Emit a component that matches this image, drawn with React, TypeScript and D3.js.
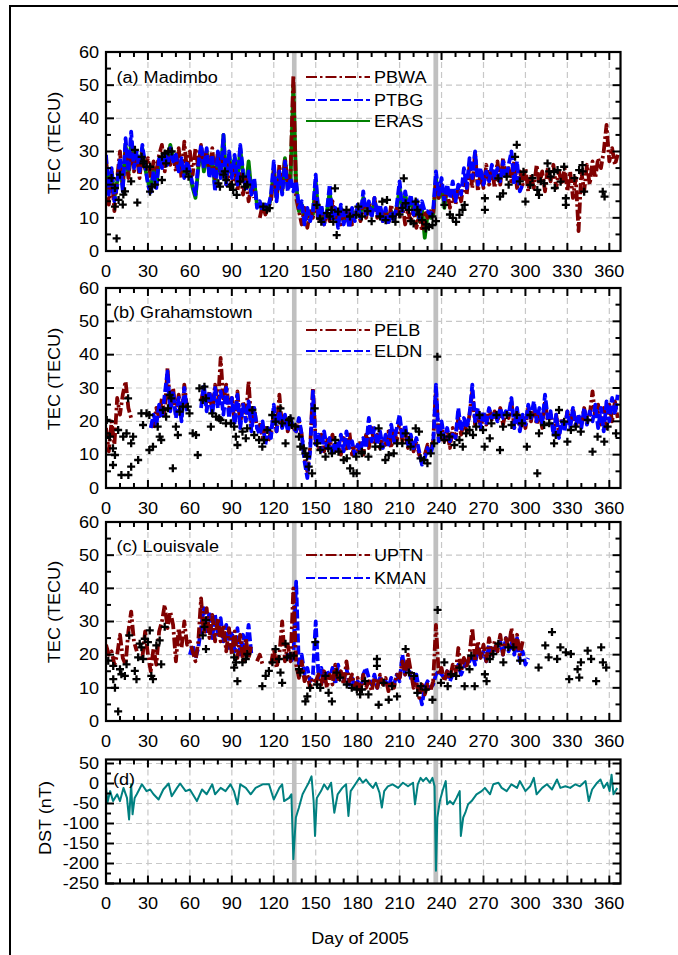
import React from 'react';
import * as d3 from 'd3';

// ---------- DATA (TEC values every 2 days, starting day 0) ----------
const STEP = 2;

const pbwa = [
  28, 14, 24, 12, 22, 30, 20, 31, 22, 30, 24, 29, 22, 30, 25, 28, 22, 27, 24, 29,
  32, 24, 30, 26, 29, 24, 31, 22, 33, 24, 30, 23, 31, 25, 32, 26, 30, 24, 31, 22,
  30, 24, 28, 20, 27, 19, 26, 18, 24, 17, 22, 15, 20, 16, null, 10, 14, 11, 13, 15,
  24, 16, 26, 18, 28, 20, 24, 53, 16, 12, 8, 13, 7, 12, 10, 16, 9, 13, 8, 12,
  9, 15, 10, 13, 8, 12, 9, 13, 8, 11, 13, 9, 15, 10, 14, 11, 16, 10, 13, 9,
  12, 8, 14, 9, 13, 10, 14, 8, 12, 9, 13, 7, 11, 6, 12, 10, 12, 11, 21, 16,
  20, 15, 18, 13, 17, 14, 19, 15, 21, 17, 26, 19, 30, 18, 24, 19, 26, 20, 25, 19,
  27, 20, 28, 22, 25, 21, 27, 19, 24, 20, 25, 18, 23, 19, 26, 20, 24, 18, 25, 21,
  26, 19, 24, 20, 25, 18, 24, 16, 22, 6, 24, 18, 26, 20, 27, 22, 28, 25, 30, 38,
  27, 31, 26, 29,
];
const ptbg = [
  29, 17, 25, 15, 20, 28, 18, 34, 24, 36, 25, 30, 24, 32, 26, 20, 17, 24, 19, 28,
  25, 30, 26, 31, 27, 29, 24, 28, 22, 27, 24, 20, 17, 26, 32, 25, 31, 22, 29, 18,
  30, 22, 35, 20, 30, 22, 29, 20, 32, 24, 18, 24, 17, 22, 13, 15, 12, 14, 13, 17,
  27, 15, 24, 17, 27, 18, 22, 18, 21, 13, 15, 8, 13, 9, 12, 23, 10, 14, 8, 12,
  20, 9, 13, 7, 14, 8, 12, 7, 13, 9, 14, 10, 18, 11, 15, 10, 16, 11, 14, 9,
  13, 8, 12, 9, 14, 21, 12, 18, 13, 17, 11, 16, 10, 15, 12, 12, 11, 12, 24, 17,
  22, 15, 20, 16, 21, 15, 20, 17, 25, 19, 28, 22, 30, 20, 25, 20, 24, 21, 26, 22,
  25, 21, 27, 22, 26, 30, 20, 27, 18, 20,
];
const eras = [
  27, 18, 24, 16, 21, 27, 19, 32, 23, 33, 26, 29, 25, 31, 25, 21, 18, 25, 20, 27,
  26, 29, 27, 32, 28, 28, 25, 27, 23, 26, 23, 19, 16, 25, 31, 24, 30, 23, 28, 19,
  29, 23, 35, 21, 29, 23, 28, 21, 31, 23, 19, 27, 18, 21, 14, 14, 12, 13, 13, 16,
  25, 16, 23, 18, 28, 19, 22, 50, 20, 12, 14, 9, 12, 10, 11, 21, 11, 13, 9, 12,
  18, 10, 12, 8, 13, 9, 11, 8, 12, 10, 13, 11, 16, 11, 14, 11, 15, 12, 13, 10,
  12, 9, 12, 10, 13, 19, 12, 17, 13, 16, 11, 15, 9, 13, 4, 11, 10, 11, 22, 16,
  20, 13, 19,
];

const pelb = [
  18, 11, 20, 13, 27, 22, 28, 32, 24, 21, null, null, null, null, null, null, null, 18, 24, 21,
  27, 22, 36, 24, 30, 22, 28, 21, 31, 24, null, null, null, null, 26, 30, 24, 29, 23, 31,
  25, 39, 26, 31, 24, 27, 20, 29, 19, 26, 21, 32, 19, 24, 18, 19, 15, 18, 14, 17,
  22, 17, 28, 18, 21, 17, 20, 18, 17, 20, 16, 9, 5, 12, 30, 14, 12, 16, 11, 15,
  12, 16, 11, 14, 10, 15, 11, 17, 10, 13, 11, 14, 10, 16, 12, 18, 13, 16, 12, 15,
  13, 17, 12, 18, 14, 20, 14, 17, 12, 15, 11, 14, 10, 8, 10, 13, 11, 14, 30, 15,
  19, 14, 17, 12, 18, 15, 21, 16, 20, 17, 22, 29, 19, 23, 18, 22, 19, 24, 20, 23,
  20, 24, 19, 23, 21, 26, 18, 23, 19, 22, 18, 24, 20, 25, 19, 23, 18, 26, 20, 22,
  17, 22, 16, 21, 18, 23, 19, 24, 18, 22, 19, 24, 20, 22, 29, 21, 25, 19, 24, 18,
  25, 20, 26, 21,
];
const eldn = [
  null, null, null, null, null, null, null, null, null, null, null, null, null, null, null, null, 18, 22, 19, 25,
  21, 28, 35, 23, 29, 21, 27, 20, 30, 23, null, null, null, null, 24, 31, 23, 29, 22, 30,
  24, 29, 22, 30, 21, 27, 19, 28, 18, 25, 20, 26, 17, 24, 18, 16, 20, 13, 18, 15,
  25, 17, 23, 18, 22, 17, 21, 18, 17, 21, 16, 8, 3, 11, 29, 13, 16, 11, 17, 12,
  15, 10, 14, 11, 16, 11, 17, 12, 14, 10, 13, 11, 15, 12, 21, 14, 18, 13, 17, 12,
  16, 13, 19, 14, 18, 22, 15, 19, 13, 16, 12, 15, 11, 7, 9, 12, 10, 13, 31, 14,
  20, 15, 18, 14, 16, 15, 24, 17, 21, 18, 22, 31, 20, 24, 18, 23, 19, 24, 21, 23,
  20, 24, 21, 23, 22, 27, 18, 24, 17, 22, 19, 25, 21, 26, 20, 24, 19, 28, 21, 23,
  16, 22, 15, 20, 17, 23, 18, 24, 19, 22, 18, 24, 19, 23, 20, 25, 18, 24, 17, 26,
  20, 27, 22, 28,
];

const uptn = [
  23, 20, 21, 17, 20, 26, 19, 17, 27, 33, 24, 21, null, 19, 27, 20, 15, 22, 17, 27,
  30, 35, 28, 33, 29, 18, 28, 22, 30, 23, 24, 21, 18, 24, 37, 26, 34, 25, 32, 24,
  31, 24, 29, 21, 28, 20, 27, 19, 26, 18, 25, 19, 23, null, 18, 20, 17, null, null, 17,
  22, 16, 20, 30, 18, 23, 18, 40, 17, 13, 18, 12, 14, 10, 13, 12, 14, 11, 15, 10,
  14, 11, 17, 12, 15, 11, 18, 12, 14, 10, 13, 9, 14, 10, 12, 9, 13, 10, 14, 11,
  13, 9, 12, 10, 14, 13, 18, 14, 20, 15, 10, 12, 7, 11, 8, 11, 9, 12, 29, 14,
  16, 12, 15, 13, 17, 14, 22, 15, 19, 16, 20, 28, 18, 24, 19, 23, 18, 25, 20, 24,
  21, 26, 20, 25, 22, 28, 21, 26, 20, 24,
];
const kman = [
  null, null, null, null, null, null, null, null, null, null, null, null, null, null, null,
  null, null, null, null, null, null, null, null, null, null, null, null, null, null, null,
  20, 23, 19, 22, 28, 34, 27, 33, 25, 32, 26, 31, 24, 29, 22, 27, 21, 28, 20, 26,
  22, 29, 20, null, null, null, null, null, null, null, null, null, null, null, 19,
  20, 18, 19, 42, 16, 20, 14, 16, 12, 14, 30, 13, 16, 12, 15, 13, 16, 11, 17, 13,
  12, 16, 11, 13, 10, 12, 10, 14, 16, 13, 11, 14, 10, 13, 11, 12, 10, 13, 11, 14,
  12, 20, 14, 17, 13, 11, 14, 9, 5, 10, 12, 10, 11, 14, 15, 14, 13, 15, 12, 14,
  15, 17, 14, 16, 19, 18, 20, 17, 22, 19, 21, 18, 23, 20, 22, 21, 24, 20, 25, 21,
  24, 20, 25, 18, 21, 17, 19,
];

// ---------- Observed TEC (crosses): [day, TEC] ----------
const obsA: [number, number][] = [
  [7.6, 3.8], [4, 22], [10, 23], [6.4, 19], [12.4, 17], [13.6, 18], [9, 15.4], [12, 14], [6.4, 13.4],
  [22.4, 14.6], [20.7, 30.5], [25.5, 28.4], [26.7, 26.4], [29, 25.4], [31.5, 25.4], [32.7, 19.4],
  [31.5, 17.9], [40, 21.4], [40, 28.4], [42, 29.4], [44.6, 30], [47, 30], [43, 26.4], [57.7, 24],
  [59, 22.4], [80.4, 20.4], [81.5, 19.4], [84, 23], [86, 21.4], [88.7, 19.4], [91, 18.4], [93.5, 16.9],
  [96, 21], [98, 22.4], [99.4, 19.4], [112.5, 13.4], [115, 12.4], [117, 12.9], [150.7, 13.9], [153, 9.8],
  [154, 8.8], [158, 11.4], [160, 10.4], [162.6, 8.8], [163.8, 18.9], [165, 4.8], [161.4, 12.4],
  [166, 11.9], [172, 12.4], [174.5, 10.4], [179, 10.9], [180.5, 13.4], [183, 10.4], [197.6, 14.9],
  [201, 15.4], [196, 10.4], [200, 9.3], [205, 10.4], [207, 8.8], [213, 21.9], [214.3, 14.4],
  [216.7, 12.4], [221.5, 14.9], [222.7, 12.4], [220, 8.3], [226, 9.3], [228.7, 6.8], [231, 7.3],
  [233.5, 7.8], [233.5, 10.4], [242, 13.9], [250.4, 8.8], [252.8, 10.9], [255, 12.4], [256.5, 13.9],
  [271, 15.9], [271, 12.4], [281.8, 16.4], [284, 17.4], [280.6, 21.9], [286.6, 22.4], [293.8, 32],
  [292.6, 28.4], [298.6, 23.9], [300, 14.9], [303.5, 19.9], [308.5, 18.4], [309.7, 16.9], [313.4, 20.4],
  [315.8, 26.4], [318, 22.4], [320.5, 23.9], [323, 24.4], [325.2, 20.9], [327.7, 25.4], [328.9, 13.9],
  [328.9, 15.9], [338.4, 24.4], [340.8, 25.9], [342, 17.9], [355.3, 17.9], [356.6, 16.4],
  [18, 21], [27, 27], [35, 20], [85, 24], [90, 20], [101, 20], [187, 12], [190, 9], [210, 11],
  [212, 13], [218, 9], [224, 11], [229, 8], [236, 9], [246, 11], [248, 10], [288, 20], [296, 21],
  [305, 22], [311, 21], [317, 24], [321, 19], [335, 22], [341, 24],
];
const obsB: [number, number][] = [
  [0.5, 20.4], [0, 16.4], [2.8, 15.4], [5, 11.9], [6.4, 9.9], [5, 6.9], [11, 3.9], [16, 3.9], [8.7, 17.4],
  [12.3, 15.4], [14.7, 16.4], [18, 13.4], [19.4, 15.4], [18, 6.4], [23, 8.4], [15.8, 26.9], [25.3, 22.4],
  [29, 22.4], [26.5, 18.9], [31, 21.9], [31, 11.4], [33.6, 12.4], [37, 18.4], [38.4, 15.4], [39.5, 14.4],
  [40.7, 23.4], [43, 21.4], [44.3, 23.9], [45.5, 27.9], [46.7, 26.9], [47.8, 5.9], [50, 18.4],
  [51.4, 15.9], [52.6, 22.9], [55, 24.4], [58.5, 24.4], [59.7, 22.4], [62, 16.4], [64.4, 15.9],
  [65.6, 9.9], [66.8, 29.9], [70.4, 30.4], [69.2, 26.4], [71.5, 26.9], [75, 18.4], [76, 22.4],
  [78.7, 21.4], [81, 20.9], [82, 20.4], [85.8, 19.4], [89.3, 19.4], [91.7, 18.4], [92.9, 15.4],
  [94, 12.9], [97.6, 16.9], [100, 14.9], [101, 17.9], [104.7, 23.4], [106, 15.9], [109.5, 14.4],
  [111.8, 12.4], [113, 14.4], [115.4, 17.4], [118.9, 21.9], [121.3, 19.9], [124.8, 23.9], [126, 19.4],
  [128.4, 13.4], [130.8, 20.4], [132, 20.9], [133, 18.9], [135.5, 18.4], [138, 15.4], [139, 12.4],
  [141.4, 11.9], [142.6, 10.4], [143.8, 9.4], [145, 6.4], [147.4, 4.4], [149.3, 23.9], [151, 13.4],
  [153.3, 11.4], [157, 9.4], [159, 11.9], [161.6, 10.4], [164, 14.4], [166.3, 10.9], [170, 8.4],
  [172.2, 8.9], [174.6, 5.9], [177, 4.4], [179, 9.4], [183, 10.4], [179.3, 4.4], [183, 10.9],
  [187.7, 9.4], [192.6, 12.4], [195, 17.9], [196.2, 12.4], [199.8, 8.4], [202.2, 9.9], [205.8, 10.4],
  [208.2, 13.4], [211.9, 13.4], [214.3, 16.4], [216.7, 14.4], [217.9, 12.4], [221.5, 17.9],
  [223.9, 16.9], [225, 8.9], [227.5, 8.4], [229.9, 7.4], [232.3, 10.4], [234.7, 13.4], [237, 39.4],
  [239.6, 15.9], [242, 14.4], [245.6, 15.4], [249.2, 12.9], [252.8, 14.4], [255.2, 12.4], [257.6, 16.4],
  [260, 17.4], [262.5, 15.9], [264.8, 18.4], [267.2, 21.9], [269.7, 17.4], [270.8, 12.4], [274.5, 14.9],
  [275.7, 19.4], [279.3, 21.9], [281.8, 11.4], [284, 18.4], [286.6, 21.9], [290, 18.9], [293.8, 21.9],
  [297.5, 19.4], [301, 12.4], [303.5, 21.9], [308.5, 4.4], [309.7, 16.4], [313.4, 18.9], [317, 19.4],
  [320.5, 13.4], [321.7, 15.9], [324, 23.4], [327.7, 19.9], [330, 13.9], [332.5, 17.4], [336, 18.4],
  [339.6, 16.9], [344.5, 20.4], [348, 10.9], [351.6, 15.4], [356.4, 13.9], [358.8, 18.4], [364.8, 16.4],
];
const obsC: [number, number][] = [
  [8.7, 2.9], [1.6, 18.2], [5.2, 16.6], [5.2, 12.6], [6.4, 10], [10, 15.6], [11, 14.1], [14.7, 17.1],
  [13.5, 13.6], [16.6, 25.8], [20.6, 15.1], [21.8, 12.6], [23, 19.2], [24.1, 23.3], [25.3, 22.2],
  [27.7, 24.8], [26.5, 18.7], [31.3, 27.3], [30, 23.8], [32.4, 13.6], [33.6, 12.6], [36, 22.8],
  [38.4, 24.3], [39.5, 17.1], [42, 28.4], [70.4, 28.4], [71.5, 30.4], [69.2, 25.8], [71.5, 21.7],
  [91.7, 19.2], [93, 17.7], [91.7, 16.1], [94, 12], [97.6, 17.7], [100, 18.7], [101, 20.2], [111.8, 10.5],
  [114.2, 13.6], [116.5, 15.1], [119, 17.7], [121.3, 21.7], [123.7, 18.7], [124.8, 14.6], [126, 11.5],
  [128.4, 23.3], [129.6, 19.2], [132, 19.7], [134.3, 19.7], [138, 15.6], [139, 14.6], [142.6, 5.9],
  [144, 7.4], [146, 10], [149.7, 23.8], [151, 11], [153.3, 10], [157, 13.6], [159.2, 8.5], [161.6, 5.9],
  [165, 14.6], [167.5, 13.1], [172.2, 11], [175.8, 10], [179.4, 9.5], [181.8, 8], [183, 9.5],
  [185.3, 12], [187.7, 8], [195, 4.9], [193.8, 18.7], [193.8, 16.6], [198.6, 11.5], [202.2, 6.4],
  [204.6, 10.5], [208.2, 7.4], [214.3, 21.7], [216.7, 14.6], [220.3, 13.6], [222.7, 8.5], [225.1, 10.5],
  [228.7, 9.5], [233.5, 6.4], [237.2, 33.5], [239.6, 11.5], [242, 17.7], [244.4, 10.5], [246.8, 14.1],
  [250.4, 13.6], [252.8, 16.1], [256.5, 10.5], [260, 15.6], [261.3, 19.7], [263.7, 10.5], [271, 14.1],
  [272.2, 12], [274.5, 18.7], [277, 20.2], [280.6, 23.3], [284.2, 17.7], [287.8, 22.2], [291.4, 22.2],
  [296.2, 18.2], [309.4, 16.1], [314.2, 22.8], [319, 26.8], [316.6, 19.2], [322.7, 18.7], [325, 22.2],
  [328.9, 20.7], [331.3, 12.6], [332.5, 20.2], [337.3, 15.6], [338.5, 13.1], [339.7, 17.7], [344.5, 21.2],
  [347, 18.7], [350.6, 12], [354.2, 22.2], [355.4, 17.7], [357.8, 16.1],
];

// ---------- Dst index ----------
const dstDays = [
  0, 1, 3, 5, 8, 10, 12.5, 15, 16.5, 18, 19, 20.5, 22, 25.7, 29, 31.6, 34, 37.6, 41, 44.8, 47, 50.8, 53, 57,
  60, 65, 68.7, 72, 76, 78, 82, 85.5, 89, 91.5, 94, 96, 100, 103.5, 107, 112, 116.6, 120, 124, 126, 127.4,
  131, 132.6, 134, 135.8, 138, 140.6, 143, 145, 147, 148.5, 149.5, 150.8, 153.8, 156, 158.5, 161, 163.3,
  165.7, 169, 171.7, 173.4, 175, 179, 181.3, 183.7, 186, 188.5, 190.9, 193, 195.6, 197.3, 199, 201.6, 205,
  209, 212.4, 216, 219.6, 221, 223, 225, 226.8, 229, 231.6, 233.5, 235, 236, 237, 238.8, 241, 243, 244,
  246, 248.3, 250.7, 253, 253.8, 255.5, 257, 259, 261.5, 265, 268.7, 271, 274.7, 277, 280.7, 283, 286.6,
  290, 294, 296, 300, 303.4, 306, 308, 312, 315.4, 319, 322.6, 325, 328.6, 332, 335.7, 339, 343, 345.3,
  347.7, 351.3, 353.7, 356, 358.5, 360.2, 361.6, 363, 365.7,
];
const dstValues = [
  -7, -48, -19, -44, -27, -44, -11, -36, -90, -2, -77, -36, -27, -2, -19, -15, -27, -40, -15, 0, -32, -11, 0, -19,
  -15, -44, -15, -27, -2, -27, -11, -19, -2, -19, -52, -2, -11, -27, -11, -2, -2, -40, -11, -2, -44,
  -36, -27, -189, -85, -60, -27, -11, 2, 18, -44, -131, -36, -19, -2, -15, 2, -73,
  -27, -11, -2, -81, -19, 2, 14, 2, 10, -2, -11, 2, -23, -60, -19, -7, -2,
  -11, 2, -7, 2, -52, -2, 14, 6, 14, 2, 14, -7, -218, -85, -44, -15, 6, -52,
  -44, -52, -36, -19, -131, -85, -73, -52, -44, -27, -19, -11, -27, -2, 2, -11, -19,
  -2, -11, 6, -19, -7, 14, -27, -11, -2, -15, 10, -11, -7, -11, -2, -7, 6, -44,
  -15, 2, 10, -11, 2, -19, 22, -27, -11,
];

// ---------- Axis / label content ----------
const xTickValues = [0, 30, 60, 90, 120, 150, 180, 210, 240, 270, 300, 330, 360];
const tecTickValues = [0, 10, 20, 30, 40, 50, 60];
const dstTickValues = [50, 0, -50, -100, -150, -200, -250];
const stormBands: [number, number][] = [[133, 136.3], [234.2, 237.6]];

const RED = '#800000';
const BLUE = '#0000ff';
const GREEN = '#008000';
const TEAL = '#008080';
const FONT = '"Liberation Sans", Arial, Helvetica, sans-serif';
const SX = 1.13; // horizontal stretch of the original lettering

type Series = { name: string; data: (number | null)[]; color: string; dash: string };

const DASH_DOT = '11,3,2.5,3';
const DASHED = '9,3';

const X0 = 106;
const X1 = 620.5;
const X_MAX = 368;

type Panel = {
  id: string;
  top: number;
  bottom: number;
  domain: [number, number];
  major: number;
  minor: number;
  ticks: number[];
  label: string;
  labelX: number;
  labelY: number;
  draw: Series[];
  legend: Series[];
  legendY: number[];
  obs?: [number, number][];
};

const panels: Panel[] = [
  {
    id: 'a', top: 52, bottom: 251, domain: [0, 60], major: 10, minor: 5, ticks: tecTickValues,
    label: '(a) Madimbo', labelX: 116.5, labelY: 83,
    draw: [
      { name: 'ERAS', data: eras, color: GREEN, dash: '' },
      { name: 'PBWA', data: pbwa, color: RED, dash: DASH_DOT },
      { name: 'PTBG', data: ptbg, color: BLUE, dash: DASHED },
    ],
    legend: [
      { name: 'PBWA', data: pbwa, color: RED, dash: DASH_DOT },
      { name: 'PTBG', data: ptbg, color: BLUE, dash: DASHED },
      { name: 'ERAS', data: eras, color: GREEN, dash: '' },
    ],
    legendY: [77, 100, 121],
    obs: obsA,
  },
  {
    id: 'b', top: 288, bottom: 488, domain: [0, 60], major: 10, minor: 5, ticks: tecTickValues,
    label: '(b) Grahamstown', labelX: 113, labelY: 318,
    draw: [
      { name: 'PELB', data: pelb, color: RED, dash: DASH_DOT },
      { name: 'ELDN', data: eldn, color: BLUE, dash: DASHED },
    ],
    legend: [
      { name: 'PELB', data: pelb, color: RED, dash: DASH_DOT },
      { name: 'ELDN', data: eldn, color: BLUE, dash: DASHED },
    ],
    legendY: [330, 351],
    obs: obsB,
  },
  {
    id: 'c', top: 522, bottom: 721, domain: [0, 60], major: 10, minor: 5, ticks: tecTickValues,
    label: '(c) Louisvale', labelX: 116.5, labelY: 552,
    draw: [
      { name: 'KMAN', data: kman, color: BLUE, dash: DASHED },
      { name: 'UPTN', data: uptn, color: RED, dash: DASH_DOT },
    ],
    legend: [
      { name: 'UPTN', data: uptn, color: RED, dash: DASH_DOT },
      { name: 'KMAN', data: kman, color: BLUE, dash: DASHED },
    ],
    legendY: [555, 578],
    obs: obsC,
  },
  {
    id: 'd', top: 759.5, bottom: 883.5, domain: [-250, 60], major: 50, minor: 25, ticks: dstTickValues,
    label: '(d)', labelX: 113, labelY: 785,
    draw: [], legend: [], legendY: [],
  },
];

function Txt({ x, y, anchor = 'start', size = 16, rot = 0, dy = '0', children }:
  { x: number; y: number; anchor?: string; size?: number; rot?: number; dy?: string; children: React.ReactNode }) {
  return (
    <text transform={`translate(${x},${y}) rotate(${rot}) scale(${SX},1)`} textAnchor={anchor as any}
      dy={dy} fontSize={size} fontFamily={FONT} fill="#000">{children}</text>
  );
}

function PanelView({ p }: { p: Panel }) {
  const x = d3.scaleLinear().domain([0, X_MAX]).range([X0, X1]);
  const y = d3.scaleLinear().domain(p.domain).range([p.bottom, p.top]);
  const clipId = `clip-${p.id}`;
  const line = d3
    .line<number | null>()
    .defined((v) => v != null)
    .x((_, i) => x(i * STEP))
    .y((v) => y(v as number));

  const xMinor = d3.range(0, 361, 10);
  const yMinor = d3.range(p.domain[0], p.domain[1] + 0.001, p.minor);
  const gridY = p.ticks.filter((v) => v > p.domain[0] && y(v) > p.top + 2);

  const dstLine = d3
    .line<number>()
    .x((_, i) => x(dstDays[i]))
    .y((v) => y(v));

  return (
    <g>
      <defs>
        <clipPath id={clipId}>
          <rect x={X0} y={p.top} width={X1 - X0} height={p.bottom - p.top} />
        </clipPath>
      </defs>
      {xTickValues.filter((v) => v > 0).map((v) => (
        <line key={`gx${v}`} x1={x(v)} x2={x(v)} y1={p.top} y2={p.bottom} stroke="#c8c8c8" strokeWidth={1.2} strokeDasharray="6,4" />
      ))}
      {gridY.map((v) => (
        <line key={`gy${v}`} x1={X0} x2={X1} y1={y(v)} y2={y(v)} stroke="#c8c8c8" strokeWidth={1.2} strokeDasharray="6,4" />
      ))}
      {stormBands.map(([a, b], i) => (
        <rect key={`sb${i}`} x={x(a)} y={p.top} width={x(b) - x(a)} height={p.bottom - p.top} fill="#c0c0c0" />
      ))}
      <g clipPath={`url(#${clipId})`}>
        {p.draw.map((s) => (
          <path key={s.name} d={line(s.data) || ''} fill="none" stroke={s.color} strokeWidth={3.8}
            strokeDasharray={s.dash || undefined} strokeLinejoin="round" />
        ))}
        {p.obs && p.obs.map(([d, v], i) => (
          <path key={`o${i}`} d={`M${x(d) - 4},${y(v)}h8M${x(d)},${y(v) - 4}v8`} stroke="#000" strokeWidth={2.3} />
        ))}
        {p.id === 'd' && (
          <path d={dstLine(dstValues) || ''} fill="none" stroke={TEAL} strokeWidth={2} strokeLinejoin="round" />
        )}
      </g>
      {p.legend.map((s, i) => (
        <g key={`lg${s.name}`}>
          <line x1={306} x2={370} y1={p.legendY[i]} y2={p.legendY[i]} stroke={s.color} strokeWidth={2}
            strokeDasharray={s.dash || undefined} />
          <Txt x={374} y={p.legendY[i]} dy="0.36em">{s.name}</Txt>
        </g>
      ))}
      <Txt x={p.labelX} y={p.labelY}>{p.label}</Txt>
      {xMinor.map((v) => {
        const len = v % 30 === 0 ? 8 : 5;
        return (
          <g key={`tx${v}`}>
            <line x1={x(v)} x2={x(v)} y1={p.bottom} y2={p.bottom - len} stroke="#000" strokeWidth={2} />
            <line x1={x(v)} x2={x(v)} y1={p.top} y2={p.top + len} stroke="#000" strokeWidth={2} />
          </g>
        );
      })}
      {yMinor.map((v) => {
        const len = Math.abs(v % p.major) < 1e-6 ? 8 : 5;
        return (
          <g key={`ty${v}`}>
            <line x1={X0} x2={X0 + len} y1={y(v)} y2={y(v)} stroke="#000" strokeWidth={2} />
            <line x1={X1} x2={X1 - len} y1={y(v)} y2={y(v)} stroke="#000" strokeWidth={2} />
          </g>
        );
      })}
      <rect x={X0} y={p.top} width={X1 - X0} height={p.bottom - p.top} fill="none" stroke="#000" strokeWidth={2.2} />
      {xTickValues.map((v) => (
        <Txt key={`lx${v}`} x={x(v)} y={p.bottom + 20} dy="0.36em" anchor="middle">{v}</Txt>
      ))}
      {p.ticks.map((v) => (
        <Txt key={`ly${v}`} x={X0 - 7} y={y(v)} dy="0.36em" anchor="end">{v}</Txt>
      ))}
    </g>
  );
}

export default function App() {
  return (
    <svg width={678} height={955} style={{ position: 'absolute', left: 0, top: 0, background: '#fff' }}>
      <rect x={0} y={0} width={678} height={955} fill="#fff" />
      <rect x={10} y={6} width={720} height={1000} fill="none" stroke="#000" strokeWidth={2} />
      {panels.map((p) => <PanelView key={p.id} p={p} />)}
      <Txt x={54} y={143} rot={-90} anchor="middle" dy="0.36em">TEC (TECU)</Txt>
      <Txt x={54} y={379} rot={-90} anchor="middle" dy="0.36em">TEC (TECU)</Txt>
      <Txt x={54} y={612} rot={-90} anchor="middle" dy="0.36em">TEC (TECU)</Txt>
      <Txt x={45} y={818} rot={-90} anchor="middle" dy="0.36em">DST (nT)</Txt>
      <Txt x={360} y={944} anchor="middle">Day of 2005</Txt>
    </svg>
  );
}
